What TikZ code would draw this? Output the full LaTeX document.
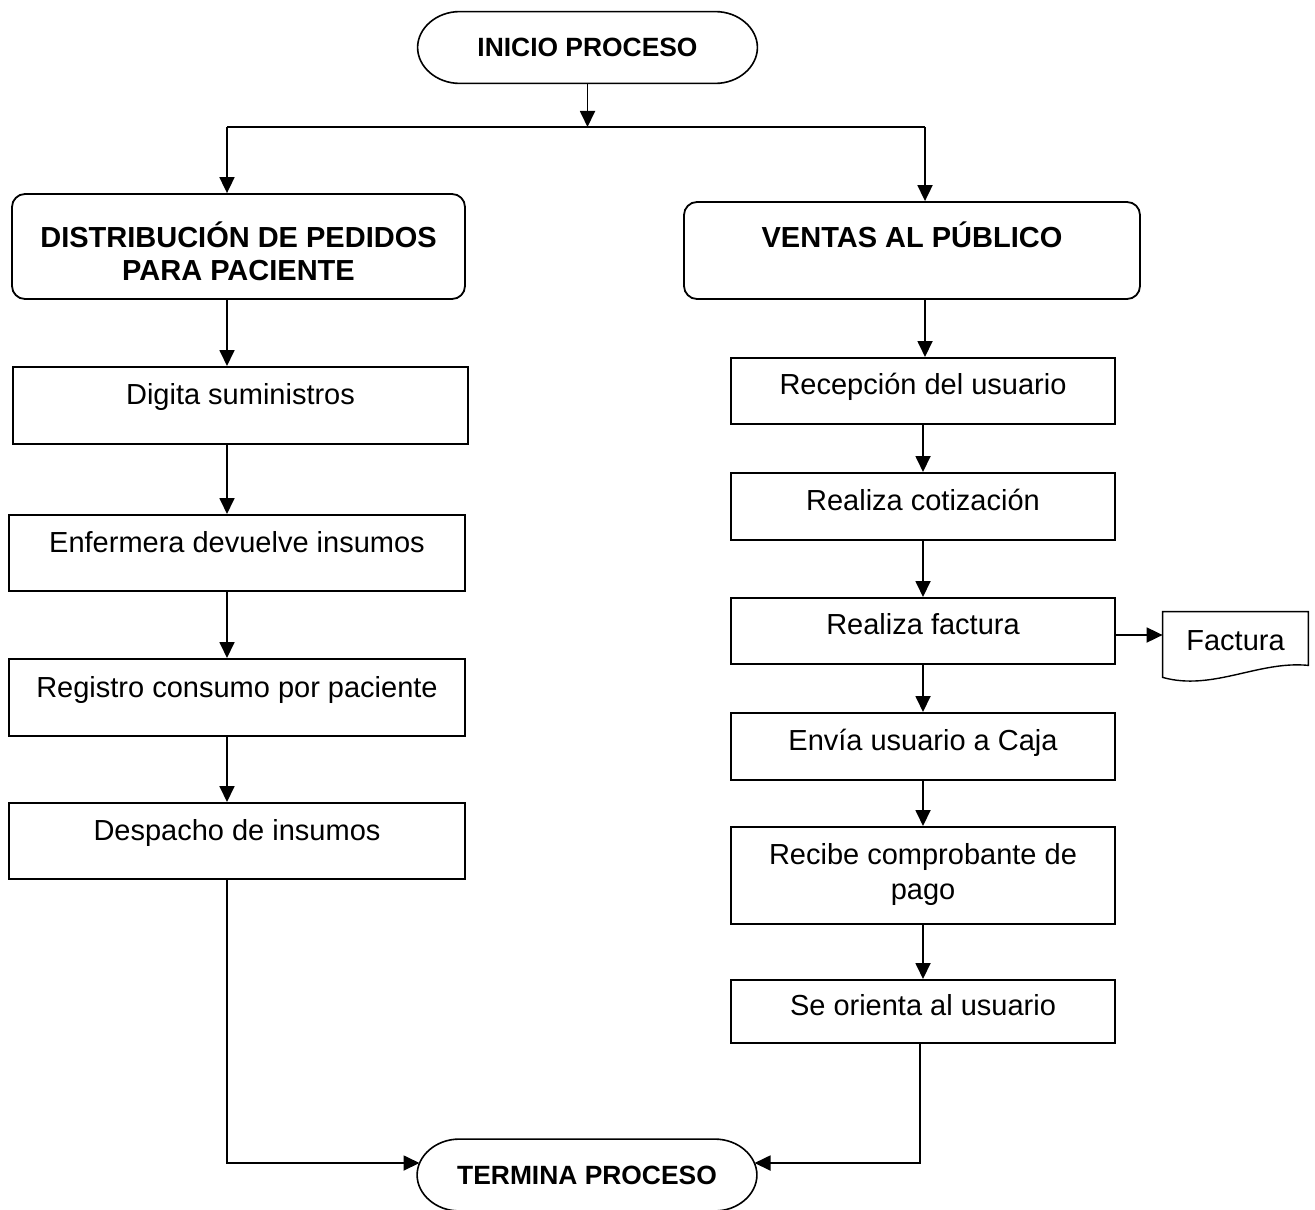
\documentclass[tikz,border=0pt]{standalone}
\usepackage{fontspec}
\setmainfont{Liberation Sans}
\usetikzlibrary{arrows.meta,shapes.misc}
\tikzset{
  arr/.style={-{Triangle[length=8pt,width=7.5pt]}, line width=0.9pt},
  ln/.style={line width=0.9pt},
  term/.style={minimum width=169.5pt, minimum height=35.5pt, inner sep=0pt, font=\fontsize{13.2}{15}\selectfont\bfseries},
  termline/.style={line width=0.8pt},
  head/.style={draw, rounded corners=6.5pt, line width=0.9pt, inner sep=0pt},
  proc/.style={draw, line width=1pt, inner sep=0pt},
  lbl/.style={inner sep=0pt, align=center, text height=10pt, text depth=3pt, font=\fontsize{14.5}{17}\selectfont},
  hlbl/.style={inner sep=0pt, align=center, font=\fontsize{14.5}{16.5}\selectfont\bfseries},
}
\newcommand\termshape[1]{%
  \draw[termline] ([xshift=21pt]#1.north west) .. controls +(-23.2,0) and +(0,-19.3) .. (#1.west)
    .. controls +(0,19.3) and +(-23.2,0) .. ([xshift=21pt]#1.south west)
    -- ([xshift=-21pt]#1.south east) .. controls +(23.2,0) and +(0,19.3) .. (#1.east)
    .. controls +(0,-19.3) and +(23.2,0) .. ([xshift=-21pt]#1.north east) -- cycle;}
\begin{document}
\begin{tikzpicture}[x=0.5pt,y=-0.5pt]
\path[fill=white,use as bounding box] (0,0) rectangle (1315,1209);
\begin{scope}
\clip (0,0) rectangle (1315,1209);
% terminals
\node[term] (t1) at (587.5,47.5) {INICIO PROCESO};
\termshape{t1}
\node[term] (t2) at (587,1175) {TERMINA PROCESO};
\termshape{t2}
\end{scope}
% headers
\node[head, minimum width=226.5pt, minimum height=52.5pt] (h1) at (238.5,246.5) {};
\node[hlbl] (h1t) at ([yshift=-2.5pt]h1.center) {DISTRIBUCIÓN DE PEDIDOS\\PARA PACIENTE};
\node[head, minimum width=228pt, minimum height=48.5pt] (h2) at (912,250.5) {};
\node[hlbl] (h2t) at ([yshift=7.75pt]h2.center) {VENTAS AL PÚBLICO};
% left column
\node[proc, minimum width=227.5pt, minimum height=38.5pt] (l1) at (240.5,405.5) {};
\node[lbl] (l1t) at ([yshift=4pt]l1.center) {Digita suministros};
\node[proc, minimum width=228pt, minimum height=38pt] (l2) at (237,553) {};
\node[lbl] (l2t) at ([yshift=3.75pt]l2.center) {Enfermera devuelve insumos};
\node[proc, minimum width=228pt, minimum height=38.5pt] (l3) at (237,697.5) {};
\node[lbl] (l3t) at ([yshift=3.5pt]l3.center) {Registro consumo por paciente};
\node[proc, minimum width=228pt, minimum height=38pt] (l4) at (237,841) {};
\node[lbl] (l4t) at ([yshift=3.75pt]l4.center) {Despacho de insumos};
% right column
\node[proc, minimum width=192pt, minimum height=33pt] (r1) at (923,391) {};
\node[lbl] (r1t) at ([yshift=1.75pt]r1.center) {Recepción del usuario};
\node[proc, minimum width=192pt, minimum height=33.5pt] (r2) at (923,506.5) {};
\node[lbl] (r2t) at ([yshift=1.5pt]r2.center) {Realiza cotización};
\node[proc, minimum width=192pt, minimum height=33pt] (r3) at (923,631) {};
\node[lbl] (r3t) at ([yshift=1.75pt]r3.center) {Realiza factura};
\node[proc, minimum width=192pt, minimum height=33.5pt] (r4) at (923,746.5) {};
\node[lbl] (r4t) at ([yshift=1.5pt]r4.center) {Envía usuario a Caja};
\node[proc, minimum width=192pt, minimum height=48.5pt] (r5) at (923,875.5) {};
\node[inner sep=0pt, align=center, font=\fontsize{14.5}{17.5}\selectfont] (r5t) at ([yshift=0.5pt]r5.center) {Recibe comprobante de\\pago};
\node[proc, minimum width=192pt, minimum height=31.5pt] (r6) at (923,1011.5) {};
\node[lbl] (r6t) at ([yshift=1.5pt]r6.center) {Se orienta al usuario};
% document
\node[inner sep=0pt, minimum width=72.5pt, minimum height=29pt, font=\fontsize{14.5}{17}\selectfont] (fac) at (1235.5,641) {Factura};
\draw[line width=0.7pt] (fac.north west) -- (fac.north east) -- ([yshift=2.5pt]fac.south east)
  .. controls +(-50,-5) and +(50,14) .. ([yshift=-3.5pt]fac.south west) -- cycle;
% connectors
\coordinate (jl) at (227,127);
\coordinate (jr) at (925,127);
\coordinate (ey) at (0,1163);
\draw[arr] (t1.south) -- (t1.south |- jl);
\draw[ln] (jl) -- (jr);
\draw[arr] (jl) -- (jl |- h1.north);
\draw[arr] (jr) -- (jr |- h2.north);
\draw[arr] (jl |- h1.south) -- (jl |- l1.north);
\draw[arr] (jl |- l1.south) -- (jl |- l2.north);
\draw[arr] (jl |- l2.south) -- (jl |- l3.north);
\draw[arr] (jl |- l3.south) -- (jl |- l4.north);
\draw[arr] (jr |- h2.south) -- (jr |- r1.north);
\draw[arr] (r1.south) -- (r2.north);
\draw[arr] (r2.south) -- (r3.north);
\draw[arr] (r3.south) -- (r4.north);
\draw[arr] (r4.south) -- (r5.north);
\draw[arr] (r5.south) -- (r6.north);
\draw[arr] ([yshift=-2pt]r3.east) -- ([yshift=-2pt]r3.east -| fac.west);
\draw[arr] (jl |- l4.south) -- (jl |- ey) -- ([shift={(1.2pt,6pt)}]t2.west);
\coordinate (re) at (920,1163);
\draw[arr] (re |- r6.south) -- (re) -- ([shift={(-1.2pt,6pt)}]t2.east);
\end{tikzpicture}
\end{document}
